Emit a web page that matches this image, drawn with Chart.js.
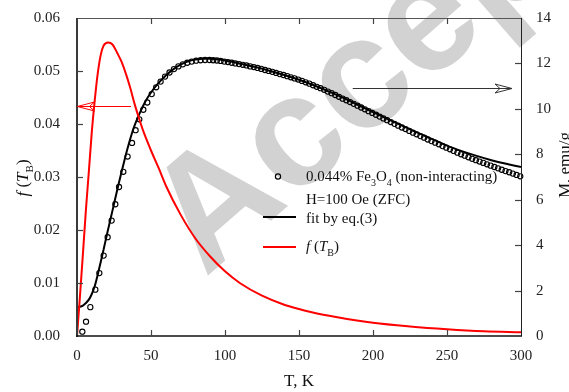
<!DOCTYPE html>
<html>
<head>
<meta charset="utf-8">
<script src="https://cdn.jsdelivr.net/npm/chart.js@4.4.1/dist/chart.umd.min.js"></script>
<style>
  html, body { margin: 0; padding: 0; background: #fff; }
  #wrap { width: 569px; height: 392px; }
</style>
</head>
<body>
<div id="wrap"><canvas id="chart" width="569" height="392"></canvas></div>
<script>
// measured ZFC magnetisation (open circles, right axis)
const tData = [3.6, 6.1, 9.0, 12.4, 15.1, 18.0, 20.7, 23.4, 25.9, 28.4, 31.3, 34.2, 37.2, 39.6, 42.1, 44.8,
  47.5, 50.5, 53.5, 56.5, 59.5, 62.5, 65.5, 68.5, 71.5, 74.5, 77.5, 80.5, 83.5, 86.5, 89.5,
  92, 94.5, 97, 99.5, 102, 104.5, 107, 109.5, 112, 114.5, 117, 119.5, 122, 124.5, 127, 129.5,
  132, 134.5, 137, 139.5, 142, 144.5, 147, 149.5, 152, 154.5, 157, 159.5, 162, 164.5, 167, 169.5,
  172, 174.5, 177, 179.5, 182, 184.5, 187, 189.5, 192, 194.5, 197, 199.5, 202, 204.5, 207, 209.5,
  212, 214.5, 217, 219.5, 222, 224.5, 227, 229.5, 232, 234.5, 237, 239.5, 242, 244.5, 247, 249.5,
  252, 254.5, 257, 259.5, 262, 264.5, 267, 269.5, 272, 274.5, 277, 279.5, 282, 284.5, 287, 289.5,
  292, 294.5, 297, 299.5];
const mData = [0.19, 0.63, 1.27, 2.04, 2.77, 3.54, 4.35, 5.08, 5.80, 6.56, 7.23, 7.90, 8.50, 9.06, 9.54, 9.96,
  10.28, 10.65, 10.95, 11.20, 11.42, 11.60, 11.75, 11.87, 11.96, 12.03, 12.08, 12.12, 12.14, 12.15, 12.15,
  12.14, 12.13, 12.11, 12.08, 12.06, 12.03, 12.00, 11.97, 11.94, 11.91, 11.87, 11.84, 11.80, 11.76, 11.71, 11.67,
  11.63, 11.58, 11.53, 11.49, 11.44, 11.39, 11.34, 11.29, 11.23, 11.17, 11.11, 11.04, 10.97, 10.91, 10.84, 10.76,
  10.69, 10.61, 10.53, 10.45, 10.38, 10.30, 10.22, 10.14, 10.06, 9.98, 9.90, 9.82, 9.74, 9.66, 9.58, 9.50,
  9.42, 9.34, 9.26, 9.18, 9.11, 9.03, 8.95, 8.88, 8.80, 8.73, 8.65, 8.58, 8.51, 8.44, 8.36, 8.29,
  8.22, 8.15, 8.07, 8.00, 7.94, 7.87, 7.80, 7.74, 7.68, 7.62, 7.56, 7.50, 7.44, 7.38, 7.32, 7.26,
  7.21, 7.15, 7.09, 7.03];

// fit by eq.(3) (black line, right axis)
const tFit = [0, 2, 4, 6, 8, 10, 12, 14, 16, 18, 20, 22, 24, 26, 28, 30, 32, 34, 36, 38, 40, 43, 46, 50, 55,
  60, 65, 70, 75, 80, 85, 90, 95, 100, 110, 120, 130, 140, 150, 160, 170, 180, 190, 200, 210, 220, 230,
  240, 250, 260, 270, 280, 290, 300];
const mFit = [1.28, 1.29, 1.34, 1.45, 1.60, 1.85, 2.20, 2.70, 3.25, 3.82, 4.40, 4.97, 5.53, 6.10, 6.66, 7.20,
  7.72, 8.22, 8.68, 9.10, 9.45, 9.90, 10.30, 10.72, 11.13, 11.47, 11.74, 11.95, 12.09, 12.17, 12.21, 12.21,
  12.18, 12.13, 12.00, 11.85, 11.68, 11.49, 11.28, 11.04, 10.77, 10.48, 10.17, 9.86, 9.55, 9.25, 8.95,
  8.67, 8.38, 8.14, 7.93, 7.74, 7.58, 7.44];

// blocking temperature distribution f(T_B) (red line, left axis)
const tDist = [0, 2, 4, 6, 8, 10, 12, 14, 16, 18, 21, 24, 27, 30, 33, 36, 39, 42, 45, 50, 55, 60, 70, 80, 90,
  100, 110, 125, 140, 150, 160, 175, 200, 225, 250, 275, 300];
const fDist = [0, 0.0075, 0.0155, 0.0237, 0.0310, 0.0385, 0.0445, 0.0495, 0.0530, 0.0548, 0.0554, 0.0550,
  0.0535, 0.0518, 0.0495, 0.0468, 0.0437, 0.0410, 0.0385, 0.0350, 0.0318, 0.0284, 0.0229, 0.0184, 0.0150,
  0.0122, 0.0100, 0.0076, 0.0059, 0.0051, 0.0044, 0.0036, 0.0025, 0.0018, 0.00128, 0.0009, 0.0007];

const xTicks = [0, 50, 100, 150, 200, 250, 300];
const fTicks = [0, 0.01, 0.02, 0.03, 0.04, 0.05, 0.06];
const mTicks = [0, 2, 4, 6, 8, 10, 12, 14];

const SERIF = '"Liberation Serif", "Times New Roman", serif';

function pts(xs, ys) { return xs.map((x, i) => ({ x: x, y: ys[i] })); }

function fontFor(p, size) {
  if (p.s === 'sub') return Math.round(size * 0.66) + 'px ' + SERIF;
  if (p.s === 'i') return 'italic ' + size + 'px ' + SERIF;
  return size + 'px ' + SERIF;
}
function richWidth(ctx, parts, size) {
  let w = 0;
  parts.forEach(p => {
    ctx.font = fontFor(p, size);
    w += ctx.measureText(p.t).width;
  });
  return w;
}
// text with italic / subscript pieces, drawn left-to-right from x
function drawRich(ctx, parts, x, y, size) {
  parts.forEach(p => {
    ctx.font = fontFor(p, size);
    const dy = p.s === 'sub' ? size * 0.3 : 0;
    ctx.fillText(p.t, x, y + dy);
    x += ctx.measureText(p.t).width;
  });
}

function arrowHead(ctx, tipX, tipY, dir) {
  // open barbed head, dir = -1 points left, +1 points right
  ctx.beginPath();
  ctx.moveTo(tipX - dir * 17, tipY - 4.5);
  ctx.lineTo(tipX, tipY);
  ctx.lineTo(tipX - dir * 17, tipY + 4.5);
  ctx.moveTo(tipX - dir * 17, tipY - 4.5);
  ctx.lineTo(tipX - dir * 12, tipY);
  ctx.lineTo(tipX - dir * 17, tipY + 4.5);
  ctx.stroke();
}

const watermark = {
  id: 'watermark',
  beforeDatasetsDraw(chart) {
    const ctx = chart.ctx;
    ctx.save();
    ctx.translate(205, 278);
    ctx.rotate(-41 * Math.PI / 180);
    ctx.fillStyle = 'rgba(205,205,205,0.9)';
    ctx.font = 'bold 158px "Liberation Sans", Arial, sans-serif';
    ctx.textBaseline = 'alphabetic';
    ctx.fillText('Accepted', 0, 0);
    ctx.restore();
  }
};

const decor = {
  id: 'decor',
  afterDatasetsDraw(chart) {
    const ctx = chart.ctx;
    const a = chart.chartArea;
    const sx = chart.scales.x, sy = chart.scales.y, s2 = chart.scales.y2;
    ctx.save();

    // frame
    ctx.lineCap = 'butt';
    ctx.strokeStyle = '#555'; ctx.lineWidth = 1;
    ctx.beginPath(); ctx.moveTo(a.left, a.top + 0.5); ctx.lineTo(a.right, a.top + 0.5); ctx.stroke();
    ctx.strokeStyle = '#222';
    ctx.beginPath(); ctx.moveTo(a.right + 0.5, a.top); ctx.lineTo(a.right + 0.5, a.bottom); ctx.stroke();
    ctx.strokeStyle = '#3a3a3a'; ctx.lineWidth = 2;
    ctx.beginPath(); ctx.moveTo(a.left, a.top); ctx.lineTo(a.left, a.bottom + 1); ctx.stroke();
    ctx.strokeStyle = '#111'; ctx.lineWidth = 1.5;
    ctx.beginPath(); ctx.moveTo(a.left - 1, a.bottom); ctx.lineTo(a.right + 1, a.bottom); ctx.stroke();

    // inward tick marks
    const TL = 6;
    ctx.lineWidth = 1.2;
    ctx.strokeStyle = '#444';
    xTicks.slice(1, -1).forEach(v => {
      const px = Math.round(sx.getPixelForValue(v)) + 0.5;
      ctx.beginPath();
      ctx.moveTo(px, a.bottom); ctx.lineTo(px, a.bottom - TL);
      ctx.moveTo(px, a.top); ctx.lineTo(px, a.top + TL);
      ctx.stroke();
    });
    fTicks.slice(1, -1).forEach(v => {
      const py = Math.round(sy.getPixelForValue(v)) + 0.5;
      ctx.beginPath(); ctx.moveTo(a.left, py); ctx.lineTo(a.left + TL, py); ctx.stroke();
    });
    mTicks.slice(1, -1).forEach(v => {
      const py = Math.round(s2.getPixelForValue(v)) + 0.5;
      ctx.beginPath(); ctx.moveTo(a.right, py); ctx.lineTo(a.right - TL, py); ctx.stroke();
    });

    // arrows pointing to the axes
    ctx.lineWidth = 1;
    ctx.strokeStyle = '#ff0000';
    const ry = Math.round(sy.getPixelForValue(0.04344)) + 0.5;
    ctx.beginPath();
    ctx.moveTo(sx.getPixelForValue(36.5), ry); ctx.lineTo(sx.getPixelForValue(0.3), ry); ctx.stroke();
    arrowHead(ctx, sx.getPixelForValue(0.3), ry, -1);
    ctx.strokeStyle = '#333';
    const by = Math.round(s2.getPixelForValue(10.9)) + 0.5;
    ctx.beginPath();
    ctx.moveTo(sx.getPixelForValue(186.3), by); ctx.lineTo(sx.getPixelForValue(293.9), by); ctx.stroke();
    arrowHead(ctx, sx.getPixelForValue(293.9), by, 1);

    // legend
    ctx.fillStyle = '#111';
    ctx.textBaseline = 'alphabetic';
    ctx.strokeStyle = '#000'; ctx.lineWidth = 1.2;
    ctx.beginPath(); ctx.arc(278, 176.5, 2.6, 0, Math.PI * 2); ctx.stroke();
    drawRich(ctx, [{ t: '0.044% Fe' }, { t: '3', s: 'sub' }, { t: 'O' }, { t: '4', s: 'sub' },
      { t: ' (non-interacting)' }], 306, 181, 15);
    drawRich(ctx, [{ t: 'H=100 Oe (ZFC)' }], 306, 203.5, 15);
    ctx.lineWidth = 2; ctx.strokeStyle = '#000';
    ctx.beginPath(); ctx.moveTo(263, 217); ctx.lineTo(296, 217); ctx.stroke();
    drawRich(ctx, [{ t: 'fit by eq.(3)' }], 306, 222.5, 15);
    ctx.strokeStyle = '#ff0000';
    ctx.beginPath(); ctx.moveTo(263, 247); ctx.lineTo(296, 247); ctx.stroke();
    drawRich(ctx, [{ t: 'f', s: 'i' }, { t: ' (' }, { t: 'T', s: 'i' }, { t: 'B', s: 'sub' }, { t: ')' }], 306, 251, 15);

    // axis titles
    ctx.fillStyle = '#111';
    ctx.font = '17px ' + SERIF;
    ctx.textAlign = 'center';
    ctx.fillText('T, K', (a.left + a.right) / 2, 386);
    ctx.textAlign = 'left';

    const leftParts = [{ t: 'f', s: 'i' }, { t: ' (' }, { t: 'T', s: 'i' }, { t: 'B', s: 'sub' }, { t: ')' }];
    ctx.save();
    ctx.translate(28, 178);
    ctx.rotate(-Math.PI / 2);
    const lw = richWidth(ctx, leftParts, 17);
    drawRich(ctx, leftParts, -lw / 2, 0, 17);
    ctx.restore();

    ctx.save();
    ctx.translate(570, 165);
    ctx.rotate(-Math.PI / 2);
    ctx.font = '17px ' + SERIF;
    ctx.textAlign = 'center';
    ctx.fillText('M, emu/g', 0, 0);
    ctx.restore();

    ctx.restore();
  }
};

const tickFont = { family: SERIF, size: 15 };

new Chart(document.getElementById('chart').getContext('2d'), {
  type: 'scatter',
  data: {
    datasets: [
      {
        label: 'f(T_B)',
        data: pts(tDist, fDist),
        yAxisID: 'y',
        showLine: true,
        borderColor: '#ff0000',
        borderWidth: 2,
        pointRadius: 0,
        cubicInterpolationMode: 'monotone',
        order: 1
      },
      {
        label: 'fit by eq.(3)',
        data: pts(tFit, mFit),
        yAxisID: 'y2',
        showLine: true,
        borderColor: '#000',
        borderWidth: 2,
        pointRadius: 0,
        cubicInterpolationMode: 'monotone',
        order: 2
      },
      {
        label: '0.044% Fe3O4 (non-interacting)',
        data: pts(tData, mData),
        yAxisID: 'y2',
        showLine: false,
        pointStyle: 'circle',
        pointRadius: 2.6,
        pointBorderWidth: 1.1,
        pointBorderColor: '#000',
        pointBackgroundColor: 'rgba(255,255,255,0)',
        clip: false,
        order: 3
      }
    ]
  },
  options: {
    responsive: false,
    devicePixelRatio: 1,
    animation: false,
    layout: { padding: { top: 16, left: 0, right: 0, bottom: 0 } },
    plugins: { legend: { display: false }, tooltip: { enabled: false } },
    scales: {
      x: {
        type: 'linear', min: 0, max: 300,
        grid: { display: false }, border: { display: false },
        afterBuildTicks: s => { s.ticks = xTicks.map(v => ({ value: v })); },
        ticks: { font: tickFont, color: '#222', padding: 3, maxRotation: 0 },
        afterFit: s => { s.height = 56; }
      },
      y: {
        type: 'linear', position: 'left', min: 0, max: 0.06,
        grid: { display: false }, border: { display: false },
        afterBuildTicks: s => { s.ticks = fTicks.map(v => ({ value: v })); },
        ticks: { font: tickFont, color: '#222', padding: 9, callback: v => v.toFixed(2) },
        afterFit: s => { s.width = 77; }
      },
      y2: {
        type: 'linear', position: 'right', min: 0, max: 14,
        grid: { display: false }, border: { display: false },
        afterBuildTicks: s => { s.ticks = mTicks.map(v => ({ value: v })); },
        ticks: { font: tickFont, color: '#222', padding: 7 },
        afterFit: s => { s.width = 48; }
      }
    }
  },
  plugins: [watermark, decor]
});
</script>
</body>
</html>
